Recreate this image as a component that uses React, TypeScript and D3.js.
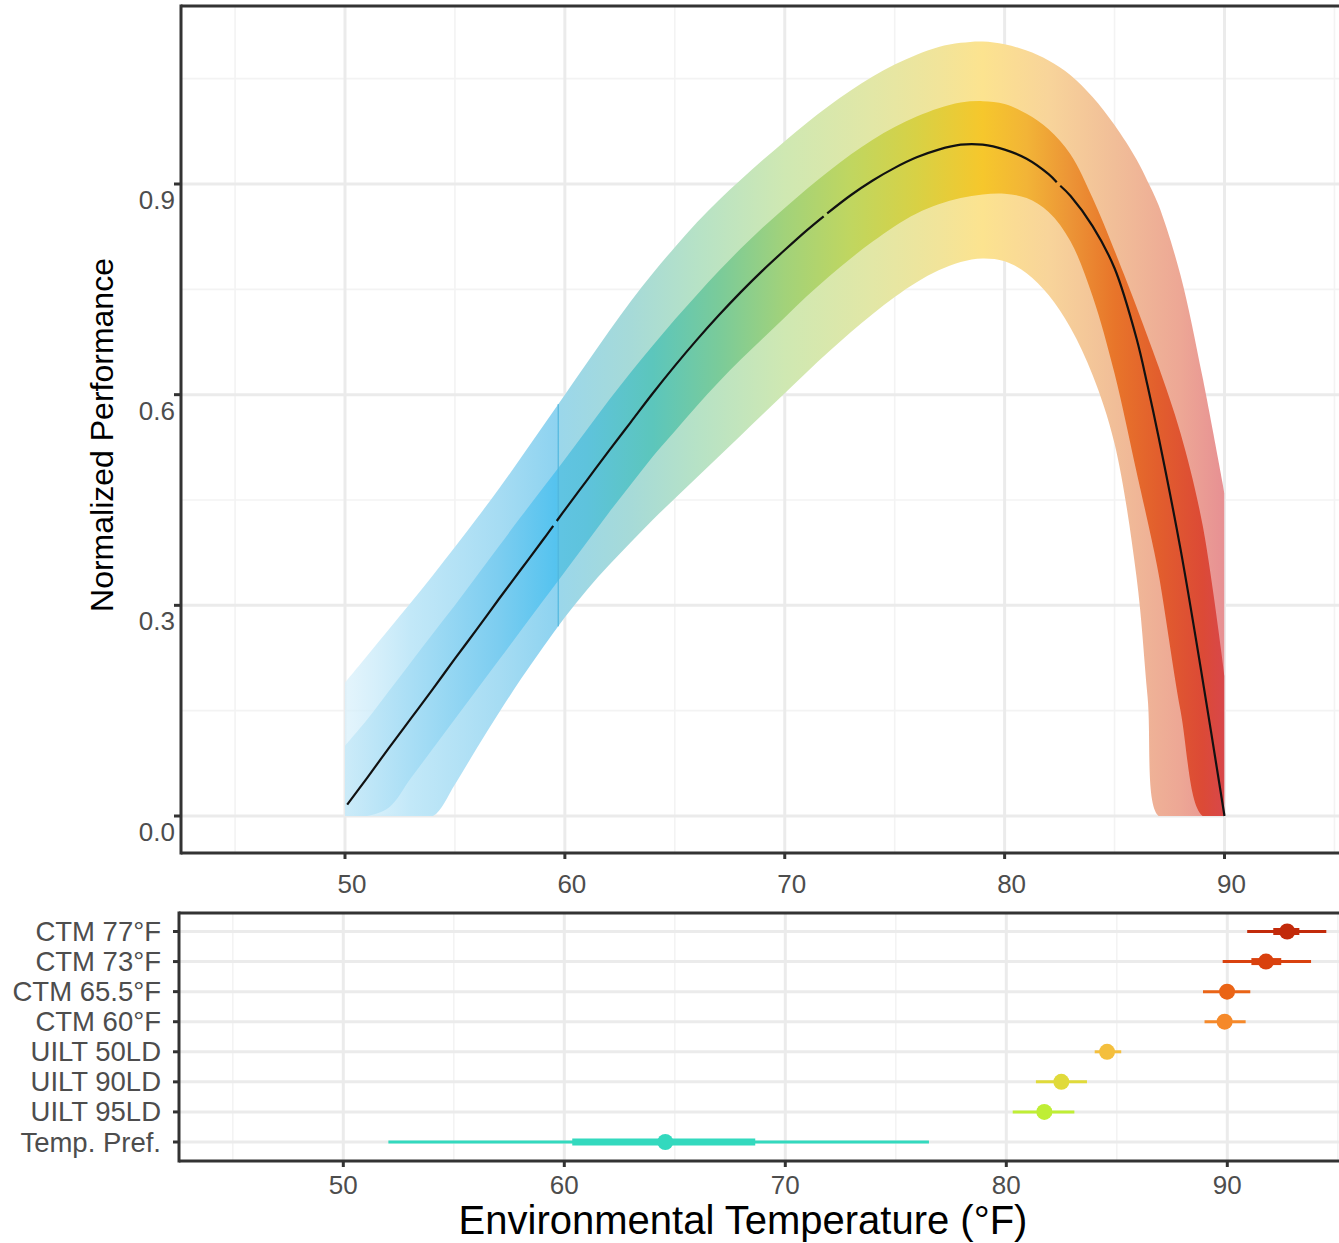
import React from "react";
import * as d3 from "d3";

// ---------- data ----------
const temps = [50,51,52,53,54,55,56,57,58,59,60,61,62,63,64,65,66,67,68,69,70,71,72,73,74,75,76,77,78,79,80,81,82,83,84,85,86,86.5,87,88,89,90];
const perf = [0.012,0.054,0.097,0.139,0.181,0.224,0.266,0.309,0.351,0.393,0.436,0.478,0.52,0.561,0.602,0.641,0.678,0.713,0.746,0.777,0.806,0.834,0.86,0.884,0.905,0.923,0.938,0.949,0.956,0.956,0.949,0.936,0.914,0.883,0.84,0.78,0.68,0.613,0.54,0.38,0.195,0.0];
const outerHi = [0.19,0.228,0.266,0.304,0.343,0.383,0.424,0.466,0.51,0.555,0.6,0.645,0.69,0.733,0.773,0.81,0.845,0.877,0.906,0.934,0.961,0.987,1.011,1.033,1.053,1.07,1.084,1.095,1.101,1.103,1.099,1.09,1.076,1.055,1.024,0.984,0.935,0.904,0.87,0.77,0.625,0.46];
const outerLo = [0,0,0,0,0,0.045,0.097,0.147,0.195,0.24,0.283,0.322,0.357,0.39,0.422,0.452,0.482,0.512,0.542,0.572,0.602,0.632,0.661,0.689,0.715,0.739,0.76,0.777,0.789,0.794,0.79,0.773,0.742,0.695,0.628,0.53,0.34,0.17,0,0,0,0];
const innerHi = [0.1,0.137,0.178,0.219,0.26,0.3,0.342,0.384,0.426,0.467,0.508,0.55,0.592,0.632,0.67,0.707,0.742,0.776,0.808,0.838,0.866,0.893,0.918,0.942,0.963,0.981,0.996,1.008,1.016,1.018,1.014,1.0,0.978,0.942,0.88,0.805,0.725,0.683,0.64,0.545,0.415,0.2];
const innerLo = [0,0,0.012,0.054,0.096,0.138,0.18,0.222,0.264,0.306,0.348,0.39,0.432,0.472,0.512,0.548,0.584,0.618,0.65,0.68,0.71,0.74,0.768,0.794,0.818,0.84,0.858,0.871,0.88,0.885,0.886,0.88,0.86,0.818,0.74,0.63,0.49,0.42,0.345,0.15,0,0];
const lineBreaks = [59.55, 71.85, 82.45];
const seamTemp = 59.7;

const yTicks = [0.0, 0.3, 0.6, 0.9];
const yMinor = [0.15, 0.45, 0.75, 1.05];
const xTicks = [50, 60, 70, 80, 90];
const xMinor = [45, 55, 65, 75, 85, 95];

const categories = ["CTM 77°F", "CTM 73°F", "CTM 65.5°F", "CTM 60°F", "UILT 50LD", "UILT 90LD", "UILT 95LD", "Temp. Pref."];
const pointEst = [92.71, 91.75, 89.99, 89.88, 84.56, 82.49, 81.72, 64.57];
const thinLo = [90.9, 89.79, 88.9, 88.97, 84.0, 81.34, 80.29, 52.04];
const thinHi = [94.48, 93.79, 91.04, 90.83, 85.2, 83.65, 83.08, 76.5];
const thickLo = [92.08, 91.09, 89.7, 89.6, 84.35, 82.2, 81.4, 60.36];
const thickHi = [93.26, 92.44, 90.3, 90.15, 84.8, 82.8, 82.05, 68.64];

// ---------- styles ----------
const catColors = ["#c22a0a", "#d9410e", "#ea6416", "#f5892a", "#f4bf3d", "#e0da3a", "#bfee35", "#33d9be"];
const outerStops: [number, string, number][] = [
  [50, "#d8f0fb", 0.7], [53, "#c2e8f8", 1], [57, "#a6dcf3", 1], [59.6, "#8ed3f0", 1], [59.8, "#9bd7ea", 1],
  [63, "#a6dad8", 1], [66, "#b6e2c6", 1], [70, "#cfe8b2", 1], [74, "#e2e7a6", 1], [77, "#f1e49a", 1],
  [79, "#fce38f", 1], [82, "#f8d49a", 1], [85, "#f1be98", 1], [88, "#eda795", 1], [90, "#e79093", 1],
];
const innerStops: [number, string, number][] = [
  [50, "#c6e9f8", 0.8], [53, "#a9def5", 1], [57, "#7ccdf0", 1], [59.6, "#55c3ef", 1], [59.8, "#60c4e2", 1],
  [61, "#5ec3dc", 1], [64, "#5cc6bc", 1], [67, "#7acb9a", 1], [70, "#a2d27a", 1], [73, "#c0d660", 1],
  [76, "#d8d145", 1], [79, "#f6c72c", 1], [81, "#f2b437", 1], [83, "#ec9436", 1], [85, "#e8752a", 1],
  [87, "#e25e2d", 1], [89, "#dc4a36", 1], [90, "#d8474a", 1],
];
const FONT = "'Liberation Sans', Arial, Helvetica, sans-serif";
const AXIS = "#333333";
const TICKTXT = "#4d4d4d";
const GRID = "#ebebeb";
const GRIDMINOR = "#f3f3f3";

export default function App() {
  const W = 1339, H = 1243;
  // top panel
  const top = { left: 181, top: 6, bottom: 853 };
  const x = d3.scaleLinear().domain([50, 90]).range([345, 1224.5]);
  const y = d3.scaleLinear().domain([0, 0.9]).range([816, 184]);
  // bottom panel
  const bot = { left: 179, top: 913, bottom: 1161 };
  const x2 = d3.scaleLinear().domain([50, 90]).range([343.3, 1227.3]);
  const yc = d3.scalePoint<string>().domain(categories).range([931.5, 1142]);

  const idx = d3.range(temps.length);
  const curve = d3.curveCatmullRom.alpha(0.5);
  const areaOuter = d3.area<number>().x(i => x(temps[i])).y0(i => y(outerLo[i])).y1(i => y(outerHi[i])).curve(curve);
  const areaInner = d3.area<number>().x(i => x(temps[i])).y0(i => y(innerLo[i])).y1(i => y(innerHi[i])).curve(curve);

  // line split into segments at the breaks
  const interp = (t: number) => {
    const j = Math.max(0, Math.min(temps.length - 2, d3.bisectRight(temps, t) - 1));
    const f = (t - temps[j]) / (temps[j + 1] - temps[j]);
    return perf[j] + f * (perf[j + 1] - perf[j]);
  };
  const bounds = [50.1, ...lineBreaks, 90];
  const segs: [number, number][][] = [];
  for (let s = 0; s < bounds.length - 1; s++) {
    const a = s === 0 ? bounds[s] : bounds[s] + 0.08;
    const b = s === bounds.length - 2 ? bounds[s + 1] : bounds[s + 1] - 0.08;
    const pts: [number, number][] = [[a, interp(a)]];
    temps.forEach((t, i) => { if (t > a + 0.2 && t < b - 0.2) pts.push([t, perf[i]]); });
    pts.push([b, interp(b)]);
    segs.push(pts);
  }
  const lineGen = d3.line<[number, number]>().x(d => x(d[0])).y(d => y(d[1])).curve(curve);

  const gx1 = x(50), gx2 = x(90);
  const off = (t: number) => (t - 50) / 40;

  const seamIdx = d3.bisectRight(temps, seamTemp) - 1;
  const fr = (arr: number[]) => arr[seamIdx] + (seamTemp - temps[seamIdx]) * (arr[seamIdx + 1] - arr[seamIdx]);

  return (
    <div style={{ position: "absolute", left: 0, top: 0 }}>
      <svg width={W} height={H} style={{ display: "block", background: "#fff" }} fontFamily={FONT}>
        <defs>
          <linearGradient id="gOuter" gradientUnits="userSpaceOnUse" x1={gx1} x2={gx2} y1={0} y2={0}>
            {outerStops.map(([t, c, o], i) => <stop key={i} offset={off(t)} stopColor={c} stopOpacity={o} />)}
          </linearGradient>
          <linearGradient id="gInner" gradientUnits="userSpaceOnUse" x1={gx1} x2={gx2} y1={0} y2={0}>
            {innerStops.map(([t, c, o], i) => <stop key={i} offset={off(t)} stopColor={c} stopOpacity={o} />)}
          </linearGradient>
          <clipPath id="clipTop"><rect x={top.left} y={top.top} width={W - top.left} height={top.bottom - top.top} /></clipPath>
          <clipPath id="clipRib"><rect x={x(50)} y={top.top} width={x(90) - x(50)} height={y(0) - top.top} /></clipPath>
          <clipPath id="clipBot"><rect x={bot.left} y={bot.top} width={W - bot.left} height={bot.bottom - bot.top} /></clipPath>
        </defs>

        {/* ---------- top panel ---------- */}
        <g clipPath="url(#clipTop)">
          {xMinor.map(v => <line key={"xm" + v} x1={x(v)} x2={x(v)} y1={top.top} y2={top.bottom} stroke={GRIDMINOR} strokeWidth={1.6} />)}
          {yMinor.map(v => <line key={"ym" + v} x1={top.left} x2={W} y1={y(v)} y2={y(v)} stroke={GRIDMINOR} strokeWidth={1.6} />)}
          {xTicks.map(v => <line key={"xg" + v} x1={x(v)} x2={x(v)} y1={top.top} y2={top.bottom} stroke={GRID} strokeWidth={3} />)}
          {yTicks.map(v => <line key={"yg" + v} x1={top.left} x2={W} y1={y(v)} y2={y(v)} stroke={GRID} strokeWidth={3} />)}
          <g clipPath="url(#clipRib)">
            <path d={areaOuter(idx) || ""} fill="url(#gOuter)" />
            <path d={areaInner(idx) || ""} fill="url(#gInner)" />
          </g>
          <line x1={x(seamTemp)} x2={x(seamTemp)} y1={y(fr(outerLo))} y2={y(fr(outerHi))} stroke="#4fb6df" strokeWidth={1.5} opacity={0.8} />
          {segs.map((s, i) => <path key={"seg" + i} d={lineGen(s) || ""} fill="none" stroke="#111" strokeWidth={2.2} />)}
        </g>
        <line x1={top.left} x2={W} y1={top.top} y2={top.top} stroke={AXIS} strokeWidth={3} />
        <line x1={top.left} x2={top.left} y1={top.top - 1.5} y2={top.bottom + 1.5} stroke={AXIS} strokeWidth={3} />
        <line x1={top.left} x2={W} y1={top.bottom} y2={top.bottom} stroke={AXIS} strokeWidth={3} />
        {yTicks.map(v => (
          <g key={"yt" + v}>
            <line x1={top.left - 7} x2={top.left} y1={y(v)} y2={y(v)} stroke={AXIS} strokeWidth={3} />
            <text x={175} y={y(v) + 25} textAnchor="end" fontSize={26} fill={TICKTXT}>{d3.format(".1f")(v)}</text>
          </g>
        ))}
        {xTicks.map(v => (
          <g key={"xt" + v}>
            <line x1={x(v)} x2={x(v)} y1={top.bottom} y2={top.bottom + 6} stroke={AXIS} strokeWidth={3} />
            <text x={x(v) + 7} y={893} textAnchor="middle" fontSize={26} fill={TICKTXT}>{v}</text>
          </g>
        ))}
        <text transform="translate(113,435) rotate(-90)" textAnchor="middle" fontSize={32} fill="#000">Normalized Performance</text>

        {/* ---------- bottom panel ---------- */}
        <g clipPath="url(#clipBot)">
          {xMinor.map(v => <line key={"bxm" + v} x1={x2(v)} x2={x2(v)} y1={bot.top} y2={bot.bottom} stroke={GRIDMINOR} strokeWidth={1.6} />)}
          {xTicks.map(v => <line key={"bxg" + v} x1={x2(v)} x2={x2(v)} y1={bot.top} y2={bot.bottom} stroke={GRID} strokeWidth={3} />)}
          {categories.map(c => <line key={"byg" + c} x1={bot.left} x2={W} y1={yc(c)!} y2={yc(c)!} stroke={GRID} strokeWidth={3} />)}
          {categories.map((c, i) => (
            <g key={"pr" + c}>
              <line x1={x2(thinLo[i])} x2={x2(thinHi[i])} y1={yc(c)!} y2={yc(c)!} stroke={catColors[i]} strokeWidth={3} />
              <line x1={x2(thickLo[i])} x2={x2(thickHi[i])} y1={yc(c)!} y2={yc(c)!} stroke={catColors[i]} strokeWidth={7} />
              <circle cx={x2(pointEst[i])} cy={yc(c)!} r={8} fill={catColors[i]} />
            </g>
          ))}
        </g>
        <line x1={bot.left} x2={W} y1={bot.top} y2={bot.top} stroke={AXIS} strokeWidth={3} />
        <line x1={bot.left} x2={bot.left} y1={bot.top - 1.5} y2={bot.bottom + 1.5} stroke={AXIS} strokeWidth={3} />
        <line x1={bot.left} x2={W} y1={bot.bottom} y2={bot.bottom} stroke={AXIS} strokeWidth={3} />
        {categories.map(c => (
          <g key={"bl" + c}>
            <line x1={bot.left - 6} x2={bot.left} y1={yc(c)!} y2={yc(c)!} stroke={AXIS} strokeWidth={3} />
            <text x={161} y={yc(c)! + 9.5} textAnchor="end" fontSize={27.5} fill={TICKTXT}>{c}</text>
          </g>
        ))}
        {xTicks.map(v => (
          <g key={"bxt" + v}>
            <line x1={x2(v)} x2={x2(v)} y1={bot.bottom} y2={bot.bottom + 6} stroke={AXIS} strokeWidth={3} />
            <text x={x2(v)} y={1194} textAnchor="middle" fontSize={26} fill={TICKTXT}>{v}</text>
          </g>
        ))}
        <text x={743} y={1234} textAnchor="middle" fontSize={40} fill="#000">Environmental Temperature (°F)</text>
      </svg>
    </div>
  );
}
